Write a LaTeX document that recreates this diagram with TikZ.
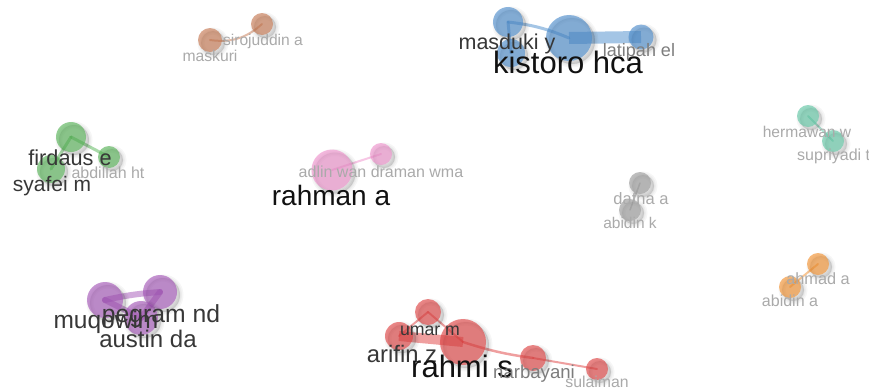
\documentclass[tikz,border=0pt]{standalone}
\usepackage{fontspec}
\setmainfont{Liberation Sans}
\definecolor{cbrown}{RGB}{200,120,80}
\definecolor{cblue}{RGB}{75,140,205}
\definecolor{cgreen}{RGB}{85,180,85}
\definecolor{cpink}{RGB}{240,145,205}
\definecolor{cgray}{RGB}{155,155,155}
\definecolor{cteal}{RGB}{95,200,165}
\definecolor{corange}{RGB}{245,145,45}
\definecolor{cpurple}{RGB}{165,85,185}
\definecolor{cred}{RGB}{225,65,65}
\definecolor{tbig}{RGB}{17,17,17}
\definecolor{tmid}{RGB}{55,55,55}
\definecolor{tlow}{RGB}{125,125,125}
\definecolor{tfaint}{RGB}{170,170,170}
\pgfdeclarelayer{paper}
\pgfdeclarelayer{edges}
\pgfsetlayers{paper,edges,main}
\tikzset{
  softshadow/.style={preaction={draw=black, draw opacity=0.035, line width=#1,
      fill=black, fill opacity=0.045, transform canvas={xshift=3pt, yshift=-3pt}}},
  item/.style 2 args={circle, inner sep=0pt, minimum size=#2, fill=#1, fill opacity=0.62, draw=none,
    softshadow=7pt, softshadow=4pt, softshadow=1.5pt},
  link/.style={draw=#1, draw opacity=0.5, line cap=round},
  lab/.style 2 args={font=\fontsize{#1}{#1}\selectfont, text=#2, anchor=base, inner sep=0pt},
}
\begin{document}
\begin{tikzpicture}[x=1pt,y=-1pt]
\useasboundingbox (0,0) rectangle (869,391);
\begin{pgfonlayer}{paper}
\fill[white] (0,0) rectangle (869,391);
\end{pgfonlayer}

% author items
\node[item={cbrown}{24}] (maskuri) at (210,40) {};
\node[item={cbrown}{22}] (siro) at (262,24) {};

\node[item={cblue}{30}] (masduki) at (508,22) {};
\node[item={cblue}{28}] (blow) at (511,53) {};
\node[item={cblue}{46}] (kistoro) at (569,38) {};
\node[item={cblue}{25}] (latipah) at (641,37) {};

\node[item={cgreen}{30}] (firdaus) at (71,137) {};
\node[item={cgreen}{22}] (abdillah) at (109,157) {};
\node[item={cgreen}{28}] (syafei) at (51,169) {};

\node[item={cpink}{41}] (rahman) at (332,170) {};
\node[item={cpink}{22}] (adlin) at (381,154) {};

\node[item={cgray}{22}] (dafna) at (640,183) {};
\node[item={cgray}{22}] (abidink) at (630,210) {};

\node[item={cteal}{22}] (hermawan) at (808,116) {};
\node[item={cteal}{22}] (supriyadi) at (833,141) {};

\node[item={corange}{22}] (ahmad) at (818,264) {};
\node[item={corange}{22}] (abidina) at (790,287) {};

\node[item={cpurple}{36}] (muqowim) at (105,300) {};
\node[item={cpurple}{34}] (pegram) at (160,292) {};
\node[item={cpurple}{34}] (austin) at (141,318) {};

\node[item={cred}{26}] (umar) at (428,312) {};
\node[item={cred}{28}] (arifin) at (399,336) {};
\node[item={cred}{46}] (rahmi) at (463,342) {};
\node[item={cred}{26}] (narbayani) at (533,358) {};
\node[item={cred}{22}] (sulaiman) at (597,369) {};

% co-authorship links
\begin{pgfonlayer}{edges}
\draw[link=cbrown, line width=2pt] (maskuri.center) to[bend right=25] (siro.center);

\draw[link=cblue, line width=3pt] (masduki.center) to[bend left=8] (kistoro.center);
\draw[link=cblue, line width=3pt] (masduki.center) -- (blow.center);
\draw[link=cblue, line width=12pt, line cap=butt] (kistoro.center) -- (latipah.center);

\draw[link=cgreen, line width=3pt] (firdaus.center) -- (abdillah.center);
\draw[link=cgreen, line width=3pt] (firdaus.center) -- (syafei.center);

\draw[link=cpink, line width=2pt] (rahman.center) -- (adlin.center);
\draw[link=cgray, line width=1.5pt] (dafna.center) -- (abidink.center);
\draw[link=cteal, line width=2pt] (hermawan.center) -- (supriyadi.center);
\draw[link=corange, line width=2pt] (ahmad.center) -- (abidina.center);

\draw[link=cpurple, line width=6pt] (muqowim.center) to[bend left=4] (pegram.center);
\draw[link=cpurple, line width=6pt] (muqowim.center) -- (austin.center);
\draw[link=cpurple, line width=6pt] (pegram.center) -- (austin.center);

\draw[link=cred, line width=2pt] (umar.center) -- (arifin.center);
\draw[link=cred, line width=2pt] (umar.center) -- (rahmi.center);
\draw[link=cred, line width=10pt, line cap=butt] (arifin.center) -- (rahmi.center);
\draw[link=cred, line width=2.5pt] (rahmi.center) to[bend right=5] (narbayani.center);
\draw[link=cred, line width=2pt] (narbayani.center) -- (sulaiman.center);
\end{pgfonlayer}

% labels
\node[lab={15.6}{tfaint}] (tsiro) at (263,45) {sirojuddin a};
\node[lab={15.7}{tfaint}] (tmaskuri) at (210,61) {maskuri};

\node[lab={21.5}{tmid}] (tmasduki) at (507,49) {masduki y};
\node[lab={31}{tbig}] (tkistoro) at (568,73) {kistoro hca};
\node[lab={18}{tlow}] (tlatipah) at (639,56) {latipah el};

\node[lab={21.7}{tmid}] (tfirdaus) at (70,165) {firdaus e};
\node[lab={16}{tfaint}] (tabdillah) at (108,178) {abdillah ht};
\node[lab={21}{tmid}] (tsyafei) at (52,191) {syafei m};

\node[lab={16}{tfaint}] (tadlin) at (381,177) {adlin wan draman wma};
\node[lab={28}{tbig}] (trahman) at (331,205) {rahman a};

\node[lab={16.5}{tfaint}] (tdafna) at (641,204) {dafna a};
\node[lab={15.5}{tfaint}] (tabidink) at (630,228) {abidin k};

\node[lab={15.6}{tfaint}] (thermawan) at (807,137) {hermawan w};
\node[lab={16}{tfaint}, anchor=base west] (tsupriyadi) at (797,160) {supriyadi t};

\node[lab={16.3}{tfaint}] (tahmad) at (818,284) {ahmad a};
\node[lab={16}{tfaint}] (tabidina) at (790,306) {abidin a};

\node[lab={24.7}{tmid}] (tpegram) at (161,322) {pegram nd};
\node[lab={24.5}{tmid}] (tmuqowim) at (106,328) {muqowim};
\node[lab={24}{tmid}] (taustin) at (148,347) {austin da};

\node[lab={17.7}{tmid}] (tumar) at (430,335) {umar m};
\node[lab={23.8}{tmid}] (tarifin) at (402,362) {arifin z};
\node[lab={31}{tbig}] (trahmi) at (462,377) {rahmi s};
\node[lab={18.6}{tlow}] (tnarbayani) at (534,378) {narbayani};
\node[lab={15.8}{tfaint}] (tsulaiman) at (597,387) {sulaiman};
\end{tikzpicture}
\end{document}
